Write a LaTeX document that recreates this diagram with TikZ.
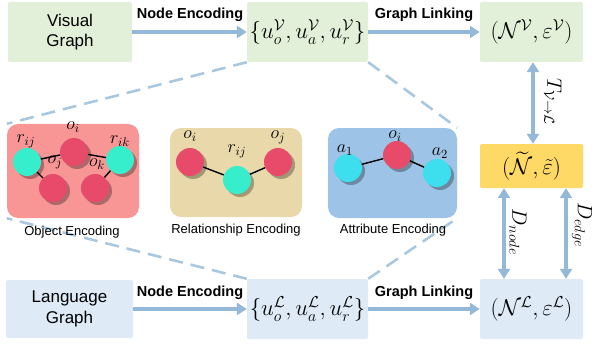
\documentclass[tikz,border=0pt]{standalone}
\usepackage[no-math]{fontspec}
\setmainfont{Liberation Sans}
\usepackage{amsmath,amssymb}
\usepackage{graphicx}
\usetikzlibrary{arrows.meta,shadows,backgrounds}
\definecolor{gbox}{HTML}{E2F0D9}
\definecolor{bbox}{HTML}{DEEBF7}
\definecolor{ybox}{HTML}{FFD966}
\definecolor{arrc}{HTML}{94B8D7}
\definecolor{dashc}{HTML}{A9C8E0}
\definecolor{pinkp}{HTML}{F89696}
\definecolor{tanp}{HTML}{E9D9AA}
\definecolor{bluep}{HTML}{9DC3E6}
\definecolor{cyanA}{HTML}{36EECB}
\definecolor{cyanB}{HTML}{3DDFEF}
\definecolor{redc}{HTML}{E84A6A}
\newcommand{\boxmathx}[1]{\scalebox{1.1}{$#1$}}
\newcommand{\lblmathx}[1]{\scalebox{1.25}{$#1$}}
\begin{document}
\begin{tikzpicture}[x=1pt,y=-1pt,
  box/.style={rectangle, rounded corners=2pt, inner sep=0pt, align=center},
  gtext/.style={font=\fontsize{17}{20.5}\selectfont},
  mtext/.style={font=\fontsize{20.74}{24}\selectfont},
  lbl/.style={font=\fontsize{14.5}{17}\selectfont\bfseries, inner sep=0pt},
  plbl/.style={font=\fontsize{13}{15}\selectfont, inner sep=0pt},
  panel/.style={rectangle, rounded corners=11pt, inner sep=0pt},
  arr/.style={draw=arrc, line width=3.6pt, -{Triangle[length=10pt,width=12pt]}},
  darr/.style={draw=arrc, line width=3.6pt, {Triangle[length=10pt,width=12pt]}-{Triangle[length=10pt,width=12pt]}},
  dline/.style={draw=dashc, line width=2.6pt, dash pattern=on 14pt off 8pt},
  ball/.style={circle, minimum size=28pt, inner sep=0pt, drop shadow={shadow xshift=3pt, shadow yshift=-3pt, opacity=0.3, fill=black}},
  redb/.style={ball, fill=redc},
  cyb/.style={ball, fill=cyanA},
  cyb2/.style={ball, fill=cyanB},
  elink/.style={draw=black, line width=1.4pt},
  mlbl/.style={font=\fontsize{14.4}{17}\selectfont, inner sep=0pt},
  vlbl/.style={font=\fontsize{20.74}{23}\selectfont, inner sep=0pt, rotate=-90}
]
\useasboundingbox (0,0) rectangle (595,345);

% boxes
\node[box, fill=gbox, minimum width=124pt, minimum height=60pt, gtext] (vg) at (70,32) {Visual\\Graph};
\node[box, fill=gbox, minimum width=121pt, minimum height=60pt, mtext] (uv) at (307.5,32) {\boxmathx{\{u_o^{\mathcal{V}}, u_a^{\mathcal{V}}, u_r^{\mathcal{V}}\}}};
\node[box, fill=gbox, minimum width=103pt, minimum height=60pt, mtext] (nv) at (531.5,32) {\boxmathx{(\mathcal{N}^{\mathcal{V}}, \varepsilon^{\mathcal{V}})}};
\node[box, fill=bbox, minimum width=127pt, minimum height=58pt, gtext] (lg) at (69.5,309) {Language\\Graph};
\node[box, fill=bbox, minimum width=121pt, minimum height=60pt, mtext] (ul) at (307.5,309) {\boxmathx{\{u_o^{\mathcal{L}}, u_a^{\mathcal{L}}, u_r^{\mathcal{L}}\}}};
\node[box, fill=bbox, minimum width=103pt, minimum height=60pt, mtext] (nl) at (531.5,309) {\boxmathx{(\mathcal{N}^{\mathcal{L}}, \varepsilon^{\mathcal{L}})}};
\node[box, fill=ybox, minimum width=103pt, minimum height=44pt, mtext] (nt) at (531.5,166) {\boxmathx{(\widetilde{\mathcal{N}}, \tilde{\varepsilon})}};

% panels
\node[panel, fill=pinkp, minimum width=132pt, minimum height=94pt] (op) at (73,171) {};
\node[panel, fill=tanp, minimum width=132pt, minimum height=89pt] (rp) at (236,172.5) {};
\node[panel, fill=bluep, minimum width=129pt, minimum height=90pt] (ap) at (392.5,173) {};
\node[plbl] (opl) at (72,232) {Object Encoding};
\node[plbl] (rpl) at (236,230) {Relationship Encoding};
\node[plbl] (apl) at (393,230) {Attribute Encoding};

% dashed guide lines
\begin{scope}[on background layer]
\draw[dline] (uv.south west) -- (op.north west);
\draw[dline] (uv.south east) -- (ap.north east);
\draw[dline] (ul.north west) -- (op.south west);
\draw[dline] (ul.north east) -- (ap.south east);
\end{scope}

% arrows
\draw[arr] (vg.east) -- (uv.west);
\draw[arr] (uv.east) -- (nv.west);
\draw[arr] (lg.east) -- (ul.west);
\draw[arr] (ul.east) -- (nl.west);
\node[lbl] (ne1) at (190,15) {Node Encoding};
\node[lbl] (gl1) at (424,15) {Graph Linking};
\node[lbl] (ne2) at (190,293) {Node Encoding};
\node[lbl] (gl2) at (424,293) {Graph Linking};
\draw[darr] ([xshift=1.5pt]nv.south) -- ([xshift=1.5pt]nt.north);
\draw[darr] ([xshift=-27.5pt]nt.south) -- ([xshift=-27.5pt]nl.north);
\draw[darr] ([xshift=34.5pt]nt.south) -- ([xshift=34.5pt]nl.north);
\node[vlbl] (tl) at (553,102) {$T_{\mathcal{V}\to\mathcal{L}}$};
\node[vlbl] (dn) at (518,232) {$D_{node}$};
\node[vlbl] (de) at (582,225) {$D_{edge}$};

% object encoding graph
\node[cyb] (o1) at (27,162) {};
\node[redb] (o2) at (74,152) {};
\node[redb] (o3) at (53,188) {};
\node[redb] (o4) at (95,188) {};
\node[cyb] (o5) at (120,160) {};
\draw[elink] (o1) -- (o2);
\draw[elink] (o2) -- (o5);
\draw[elink] (o1) -- (o3);
\draw[elink] (o4) -- (o5);
\node[mlbl] (o1l) at (26,141) {\lblmathx{r_{ij}}};
\node[mlbl] (o2l) at (73,127) {\lblmathx{o_i}};
\node[mlbl] (o3l) at (55,162) {\lblmathx{o_j}};
\node[mlbl] (o4l) at (97,164) {\lblmathx{o_k}};
\node[mlbl] (o5l) at (120,141) {\lblmathx{r_{ik}}};

% relationship encoding graph
\node[redb] (r1) at (190,162) {};
\node[cyb] (r2) at (237,180) {};
\node[redb] (r3) at (278,162) {};
\draw[elink] (r1) -- (r2);
\draw[elink] (r2) -- (r3);
\node[mlbl] (r1l) at (190,136) {\lblmathx{o_i}};
\node[mlbl] (r2l) at (237,151) {\lblmathx{r_{ij}}};
\node[mlbl] (r3l) at (278,137) {\lblmathx{o_j}};

% attribute encoding graph
\node[cyb2] (a1) at (348,168) {};
\node[redb] (a2) at (397,155) {};
\node[cyb2] (a3) at (437,173) {};
\draw[elink] (a1) -- (a2);
\draw[elink] (a2) -- (a3);
\node[mlbl] (a1l) at (345,150) {\lblmathx{a_1}};
\node[mlbl] (a2l) at (395,136) {\lblmathx{o_i}};
\node[mlbl] (a3l) at (440,153) {\lblmathx{a_2}};
\end{tikzpicture}
\end{document}
